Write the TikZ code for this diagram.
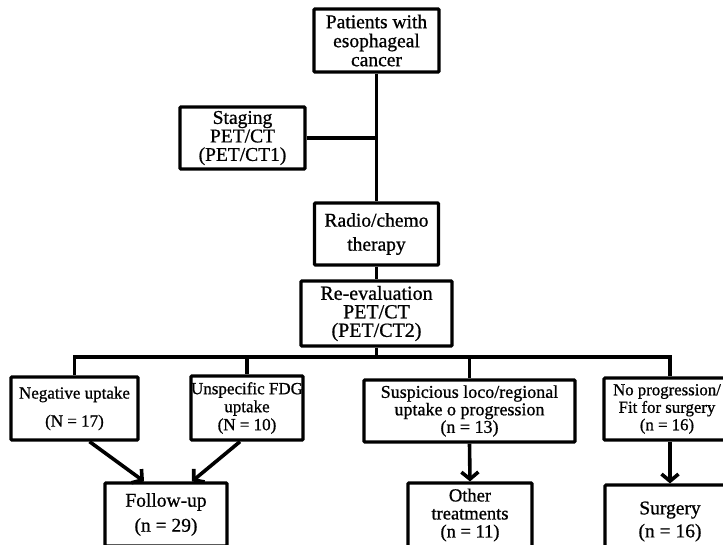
\documentclass[tikz,border=0pt]{standalone}
\usepackage{fontspec}
\setmainfont{Liberation Serif}[RawFeature={embolden=0.8}]
\usetikzlibrary{arrows.meta}
\begin{document}
\begin{tikzpicture}[x=1pt,y=-1pt,
  box/.style={draw,line width=3.2pt,rounded corners=1pt,inner sep=0pt,align=center,anchor=center},
  conn/.style={line width=3.2pt},
  arr/.style={line width=3.6pt,-{Straight Barb[length=7pt,width=17pt]}},
]
\useasboundingbox (0,0) rectangle (723,544);
\node[box,minimum width=125pt,minimum height=63pt,font=\fontsize{19.5}{19}\selectfont] (top) at (376.5,40.5) {Patients with\\esophageal\\cancer};
\node[box,minimum width=125pt,minimum height=62pt,font=\fontsize{19.5}{18.5}\selectfont] (stag) at (242.5,138) {Staging\\PET/CT\\(PET/CT1)};
\node[box,minimum width=124pt,minimum height=62pt,font=\fontsize{19.5}{24}\selectfont] (radio) at (376.5,234) {Radio/chemo\\therapy};
\node[box,minimum width=151pt,minimum height=65pt,font=\fontsize{20}{18.5}\selectfont] (reev) at (376.5,313.5) {Re-evaluation\\PET/CT\\(PET/CT2)};
\coordinate (bus) at (376.5,357);
\node[box,minimum width=127pt,minimum height=63pt,font=\fontsize{17}{28}\selectfont] (neg) at (74.5,408.5) {Negative uptake\\(N = 17)};
\node[box,minimum width=112pt,minimum height=64pt,font=\fontsize{17}{18}\selectfont] (unsp) at (247,408) {Unspecific FDG\\uptake\\(N = 10)};
\node[box,minimum width=211pt,minimum height=62pt,font=\fontsize{18}{17.5}\selectfont] (susp) at (469.5,411) {Suspicious loco/regional\\uptake o progression\\(n = 13)};
\node[box,minimum width=126pt,minimum height=62pt,font=\fontsize{16.8}{17.5}\selectfont] (nop) at (667,409) {No progression/\\Fit for surgery\\(n = 16)};
\node[box,minimum width=122pt,minimum height=63pt,font=\fontsize{19.5}{25}\selectfont] (fol) at (166,514.5) {Follow-up\\(n = 29)};
\node[box,minimum width=124pt,minimum height=64pt,font=\fontsize{18.5}{18}\selectfont] (oth) at (470,515) {Other\\treatments\\(n = 11)};
\node[box,minimum width=130pt,minimum height=73pt,font=\fontsize{19.5}{23}\selectfont] (sur) at (670,521.5) {Surgery\\(n = 16)};
\draw[conn] (top.south) -- (radio.north);
\draw[conn] (stag.east) -- (stag.east -| top.south);
\draw[conn] (radio.south) -- (reev.north);
\draw[conn] (reev.south) -- (bus);
\draw[conn] (neg.north) -- (neg.north |- bus) -- ([xshift=3pt]nop.north |- bus) -- ([xshift=3pt]nop.north);
\draw[conn] (unsp.north |- bus) -- (unsp.north);
\draw[conn] (susp.north |- bus) -- (susp.north);
\draw[arr] ([xshift=15pt]neg.south) -- ([xshift=-22pt]fol.north);
\draw[arr] ([xshift=-7pt]unsp.south) -- ([xshift=26pt]fol.north);
\draw[arr] (susp.south) -- (oth.north);
\draw[arr] ([xshift=3pt]nop.south) -- (sur.north);
\end{tikzpicture}
\end{document}
